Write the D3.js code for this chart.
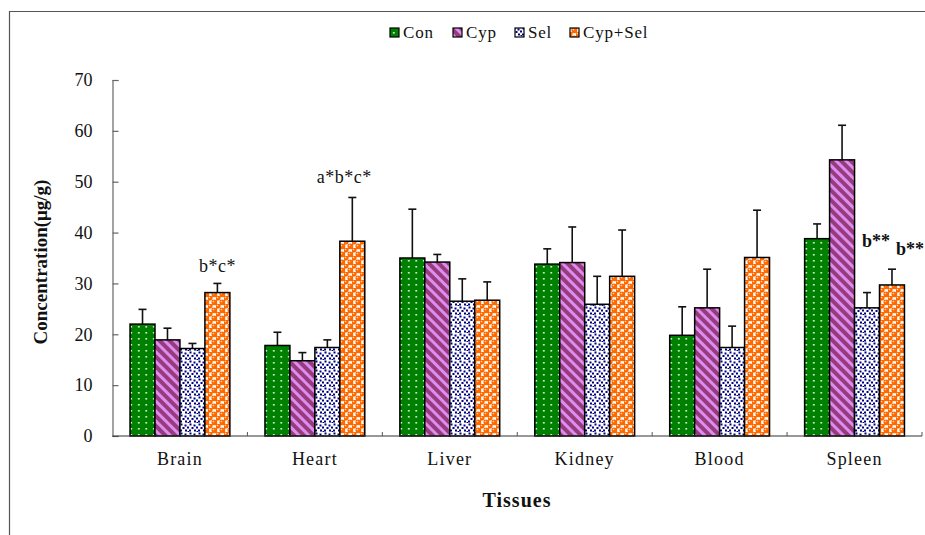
<!DOCTYPE html>
<html>
<head>
<meta charset="utf-8">
<script src="https://cdn.jsdelivr.net/npm/d3@7"></script>
<style>
  html, body { margin: 0; padding: 0; background: #fff; }
  svg { display: block; }
  text { font-family: "Liberation Serif", "Times New Roman", serif; fill: #111; }
</style>
</head>
<body>
<script>
// Tissue concentrations (mean and SD) per treatment group
const categories = ["Brain", "Heart", "Liver", "Kidney", "Blood", "Spleen"];
const seriesNames = ["Con", "Cyp", "Sel", "Cyp+Sel"];
const conValues    = [22.0, 17.8, 35.0, 33.8, 19.8, 38.8];
const conErrors    = [2.9, 2.6, 9.6, 3.0, 5.6, 2.9];
const cypValues    = [18.9, 14.8, 34.2, 34.1, 25.2, 54.3];
const cypErrors    = [2.3, 1.6, 1.5, 7.0, 7.6, 6.8];
const selValues    = [17.2, 17.4, 26.5, 25.9, 17.4, 25.2];
const selErrors    = [1.0, 1.5, 4.4, 5.5, 4.2, 3.0];
const cypSelValues = [28.2, 38.3, 26.7, 31.4, 35.1, 29.7];
const cypSelErrors = [1.8, 8.6, 3.6, 9.1, 9.3, 3.1];
const yTicks = [0, 10, 20, 30, 40, 50, 60, 70];

// Significance marks: tissue, group, text
const sigMarks = [
  { tissue: "Brain",  group: "Cyp+Sel", text: "b*c*" },
  { tissue: "Heart",  group: "Cyp+Sel", text: "a*b*c*" },
  { tissue: "Spleen", group: "Sel",     text: "b**" },
  { tissue: "Spleen", group: "Cyp+Sel", text: "b**" }
];

const valuesBySeries = [conValues, cypValues, selValues, cypSelValues];
const errorsBySeries = [conErrors, cypErrors, selErrors, cypSelErrors];

const W = 925, H = 535;
const svg = d3.select("body").append("svg").attr("width", W).attr("height", H);
const defs = svg.append("defs");

// --- fill patterns ---
// Con: green with small white dots
const pCon = defs.append("pattern").attr("id", "pat-con")
  .attr("patternUnits", "userSpaceOnUse").attr("width", 7.5).attr("height", 6);
pCon.append("rect").attr("width", 7.5).attr("height", 6).attr("fill", "#008000");
pCon.append("rect").attr("x", 3).attr("y", 2).attr("width", 1.6).attr("height", 1.6).attr("fill", "#e8ffe8");

// Cyp: purple with light violet diagonal stripes
const pCyp = defs.append("pattern").attr("id", "pat-cyp")
  .attr("patternUnits", "userSpaceOnUse").attr("width", 7).attr("height", 7)
  .attr("patternTransform", "rotate(-45)");
pCyp.append("rect").attr("width", 7).attr("height", 7).attr("fill", "#993a7c");
pCyp.append("rect").attr("x", 0).attr("width", 3).attr("height", 7).attr("fill", "#d98ef0");

// Sel: white with navy flecks
const pSel = defs.append("pattern").attr("id", "pat-sel")
  .attr("patternUnits", "userSpaceOnUse").attr("width", 9).attr("height", 9);
pSel.append("rect").attr("width", 9).attr("height", 9).attr("fill", "#ffffff");
[[0.5, 0.5], [4.5, 1.5], [2.5, 4], [7, 3.5], [0, 6.5], [5, 6.5], [7.5, 8]].forEach(([x, y]) => {
  pSel.append("rect").attr("x", x).attr("y", y).attr("width", 2).attr("height", 2).attr("fill", "#000080");
});

// Cyp+Sel: orange spheres on white
const pCs = defs.append("pattern").attr("id", "pat-cypsel")
  .attr("patternUnits", "userSpaceOnUse").attr("width", 8).attr("height", 8);
pCs.append("rect").attr("width", 8).attr("height", 8).attr("fill", "#ffffff");
pCs.append("circle").attr("cx", 2).attr("cy", 2).attr("r", 2.6).attr("fill", "#ff6a00");
pCs.append("circle").attr("cx", 6).attr("cy", 6).attr("r", 2.6).attr("fill", "#ff6a00");
pCs.append("rect").attr("x", 4).attr("y", 0).attr("width", 4).attr("height", 1.2).attr("fill", "#ff6a00");
pCs.append("rect").attr("x", 0).attr("y", 4).attr("width", 1.2).attr("height", 4).attr("fill", "#ff6a00");
pCs.append("circle").attr("cx", 1.5).attr("cy", 1.5).attr("r", 0.8).attr("fill", "#ffd9bf");
pCs.append("circle").attr("cx", 5.5).attr("cy", 5.5).attr("r", 0.8).attr("fill", "#ffd9bf");

const fills = ["url(#pat-con)", "url(#pat-cyp)", "url(#pat-sel)", "url(#pat-cypsel)"];

// --- outer frame ---
svg.append("path")
  .attr("d", `M9.5,${H} V11.5 H${W}`)
  .attr("fill", "none").attr("stroke", "#555").attr("stroke-width", 1.2);

// --- scales ---
const plotLeft = 112.5, plotRight = 922, plotTop = 80, plotBottom = 436;
const x0 = d3.scaleBand().domain(categories).range([plotLeft, plotRight]).padding(0);
const groupWidth = x0.bandwidth() * 0.74;
const x1 = d3.scaleBand().domain(seriesNames).range([0, groupWidth]).padding(0);
const y = d3.scaleLinear().domain([0, 70]).range([plotBottom, plotTop]);
const groupX = c => x0(c) + (x0.bandwidth() - groupWidth) / 2;

// --- y axis ---
const yAxis = svg.append("g").attr("transform", `translate(${plotLeft},0)`)
  .call(d3.axisLeft(y).tickValues(yTicks).tickSize(-6).tickPadding(20).tickFormat(d3.format("d")));
yAxis.attr("font-family", null);
yAxis.select(".domain").attr("stroke", "#666").attr("stroke-width", 1.2);
yAxis.selectAll(".tick line").attr("stroke", "#666").attr("stroke-width", 1.2);
yAxis.selectAll(".tick text")
  .attr("font-size", 18).attr("fill", "#111");

// --- bars ---
const barData = [];
categories.forEach((c, ci) => {
  seriesNames.forEach((s, si) => {
    barData.push({ c, s, si, v: valuesBySeries[si][ci], e: errorsBySeries[si][ci] });
  });
});

const bars = svg.append("g");
// error bars (upper only), drawn under the bar outline
const eg = bars.selectAll("g.err").data(barData).join("g").attr("class", "err");
eg.append("line")
  .attr("x1", d => groupX(d.c) + x1(d.s) + x1.bandwidth() / 2)
  .attr("x2", d => groupX(d.c) + x1(d.s) + x1.bandwidth() / 2)
  .attr("y1", d => y(d.v)).attr("y2", d => y(d.v + d.e))
  .attr("stroke", "#111").attr("stroke-width", 1.6);
eg.append("line")
  .attr("x1", d => groupX(d.c) + x1(d.s) + x1.bandwidth() / 2 - 4)
  .attr("x2", d => groupX(d.c) + x1(d.s) + x1.bandwidth() / 2 + 4)
  .attr("y1", d => y(d.v + d.e)).attr("y2", d => y(d.v + d.e))
  .attr("stroke", "#111").attr("stroke-width", 1.6);

bars.selectAll("rect.bar").data(barData).join("rect").attr("class", "bar")
  .attr("x", d => groupX(d.c) + x1(d.s))
  .attr("width", x1.bandwidth())
  .attr("y", d => y(d.v))
  .attr("height", d => y(0) - y(d.v))
  .attr("fill", d => fills[d.si])
  .attr("stroke", "#000").attr("stroke-width", 1.5);

// --- x axis ---
const xAxisG = svg.append("g");
xAxisG.append("line")
  .attr("x1", plotLeft).attr("x2", plotRight).attr("y1", plotBottom).attr("y2", plotBottom)
  .attr("stroke", "#333").attr("stroke-width", 1.2);
categories.forEach(c => {
  const bx = x0(c) + x0.bandwidth();
  xAxisG.append("line").attr("x1", bx).attr("x2", bx)
    .attr("y1", plotBottom).attr("y2", plotBottom - 4)
    .attr("stroke", "#555").attr("stroke-width", 1);
});
xAxisG.selectAll("text.cat").data(categories).join("text").attr("class", "cat")
  .attr("x", c => x0(c) + x0.bandwidth() / 2)
  .attr("y", 465)
  .attr("text-anchor", "middle")
  .attr("font-size", 18).attr("letter-spacing", 1.2)
  .text(c => c);

// --- axis titles ---
svg.append("text")
  .attr("transform", "translate(47,262) rotate(-90)")
  .attr("text-anchor", "middle")
  .attr("font-size", 19).attr("font-weight", "bold")
  .text("Concentration(μg/g)");
svg.append("text")
  .attr("x", 517).attr("y", 507)
  .attr("text-anchor", "middle")
  .attr("font-size", 20).attr("font-weight", "bold").attr("letter-spacing", 1)
  .text("Tissues");

// --- significance marks ---
const markLayout = [
  { dx: 0, dy: -11, bold: false },
  { dx: -8, dy: -14, bold: false },
  { dx: 9, dy: -46, bold: true },
  { dx: 18, dy: -14, bold: true }
];
sigMarks.forEach((m, i) => {
  const ci = categories.indexOf(m.tissue), si = seriesNames.indexOf(m.group);
  const top = valuesBySeries[si][ci] + errorsBySeries[si][ci];
  const L = markLayout[i];
  svg.append("text")
    .attr("x", groupX(m.tissue) + x1(m.group) + x1.bandwidth() / 2 + L.dx)
    .attr("y", y(top) + L.dy)
    .attr("text-anchor", "middle")
    .attr("font-size", 18)
    .attr("font-weight", L.bold ? "bold" : "normal")
    .attr("letter-spacing", L.bold ? 0 : 0.5)
    .text(m.text);
});

// --- legend ---
const legendX = [390, 453, 515, 570];
const legend = svg.append("g");
seriesNames.forEach((s, i) => {
  legend.append("rect")
    .attr("x", legendX[i]).attr("y", 28).attr("width", 9).attr("height", 9)
    .attr("fill", fills[i]).attr("stroke", "#000").attr("stroke-width", 1.2);
  legend.append("text")
    .attr("x", legendX[i] + 13).attr("y", 37.5)
    .attr("font-size", 17).attr("letter-spacing", 0.8)
    .text(s);
});
</script>
</body>
</html>
